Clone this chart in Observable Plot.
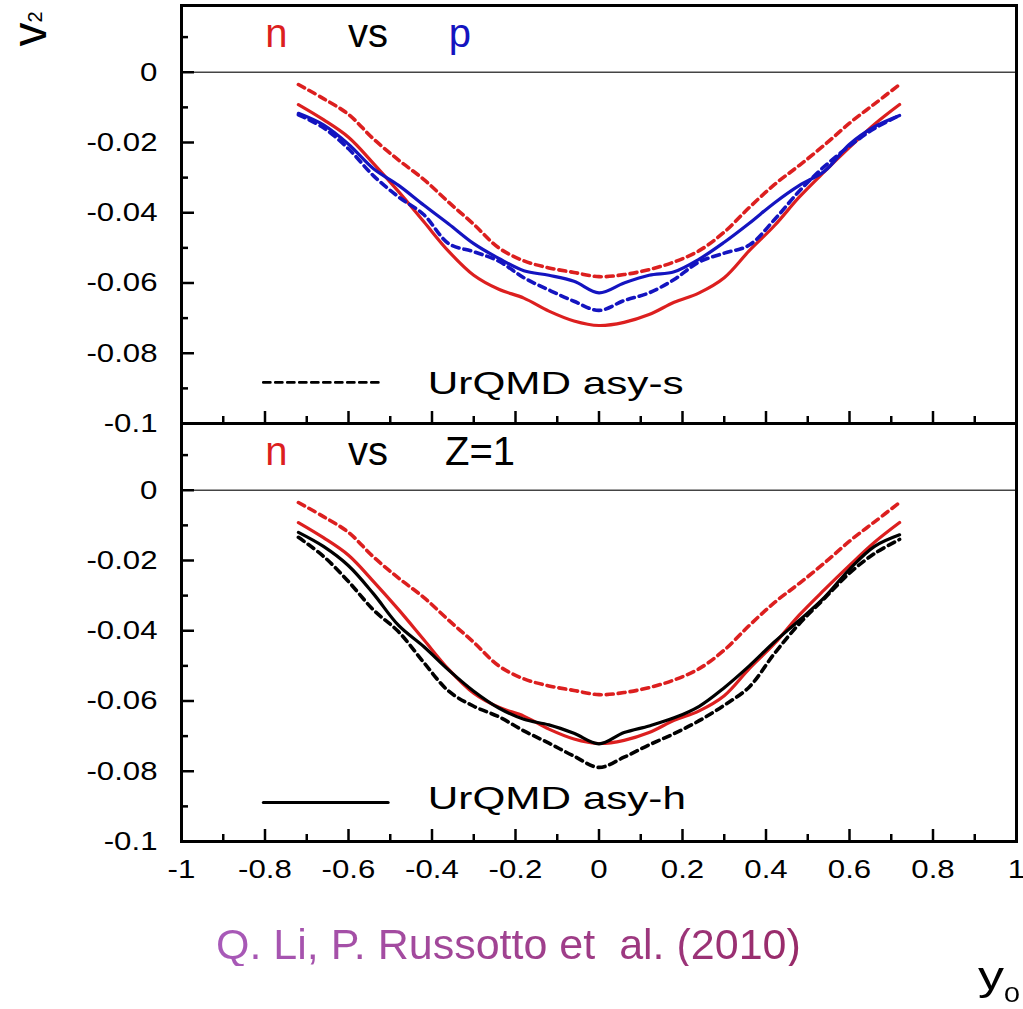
<!DOCTYPE html>
<html>
<head>
<meta charset="utf-8">
<script src="https://cdn.jsdelivr.net/npm/d3@7"></script>
<script src="https://cdn.jsdelivr.net/npm/@observablehq/plot@0.6"></script>
<style>
  html, body { margin: 0; padding: 0; background: #fff; }
  #wrap { position: relative; width: 1023px; height: 1009px; overflow: hidden;
          font-family: "Liberation Sans", Arial, sans-serif; color: #000; }
  #chart { position: absolute; left: 0; top: 0; }
  /* rotated axis title: baseline-left corner sits at (45, 46) */
  #v2 { position: absolute; left: 45px; top: 2.6px; font-size: 48px; line-height: normal;
        white-space: nowrap; transform-origin: 0 43.4px; transform: rotate(-90deg); }
  #v2 span { font-size: 20px; vertical-align: 4px; }
  #y0 { position: absolute; left: 978px; top: 956.2px; font-size: 40px; line-height: 40px;
        white-space: nowrap; transform-origin: 0 33.8px; transform: scaleX(1.3); }
  #y0 span { font-size: 22px; vertical-align: -12px; }
  #caption { position: absolute; left: 216px; top: 923px; font-size: 43px; line-height: 43px;
             white-space: pre; background: linear-gradient(90deg, #a85ab9, #982a68);
             -webkit-background-clip: text; background-clip: text; color: transparent; }
</style>
</head>
<body>
<div id="wrap">
  <div id="chart"></div>
  <div id="v2">v<span>2</span></div>
  <div id="y0">y<span>0</span></div>
  <div id="caption">Q. Li, P. Russotto et  al. (2010)</div>
</div>
<script>
// Elliptic flow v2 versus reduced rapidity y0 (UrQMD, asy-soft vs asy-hard)
const rapidity = [-0.72, -0.66, -0.60, -0.54, -0.48, -0.42, -0.36, -0.30, -0.24, -0.18, -0.12, -0.06,
                  0.00, 0.06, 0.12, 0.18, 0.24, 0.30, 0.36, 0.42, 0.48, 0.54, 0.60, 0.66, 0.72];

// neutrons, asy-soft (dashed) and asy-hard (solid)
const nAsySoft = [-0.0035, -0.0075, -0.0120, -0.0190, -0.0250, -0.0305, -0.0370, -0.0433, -0.0500, -0.0537, -0.0557, -0.0570,
                  -0.0582, -0.0576, -0.0562, -0.0540, -0.0508, -0.0455, -0.0385, -0.0320, -0.0265, -0.0207, -0.0145, -0.0090, -0.0035];
const nAsyHard = [-0.0092, -0.0135, -0.0185, -0.0260, -0.0340, -0.0425, -0.0510, -0.0578, -0.0618, -0.0643, -0.0680, -0.0708,
                  -0.0721, -0.0712, -0.0690, -0.0655, -0.0628, -0.0585, -0.0508, -0.0437, -0.0355, -0.0283, -0.0214, -0.0148, -0.0092];
// protons
const pAsySoft = [-0.0121, -0.0158, -0.0218, -0.0295, -0.0355, -0.0405, -0.0488, -0.0511, -0.0538, -0.0585, -0.0620, -0.0652,
                  -0.0678, -0.0650, -0.0628, -0.0590, -0.0540, -0.0515, -0.0492, -0.0420, -0.0338, -0.0268, -0.0210, -0.0160, -0.0123];
const pAsyHard = [-0.0117, -0.0150, -0.0205, -0.0275, -0.0322, -0.0378, -0.0432, -0.0488, -0.0530, -0.0565, -0.0578, -0.0595,
                  -0.0628, -0.0600, -0.0578, -0.0568, -0.0532, -0.0484, -0.0430, -0.0372, -0.0322, -0.0282, -0.0205, -0.0155, -0.0123];
// all Z=1 particles
const z1AsySoft = [-0.0134, -0.0188, -0.0260, -0.0341, -0.0403, -0.0490, -0.0572, -0.0615, -0.0645, -0.0685, -0.0720, -0.0757,
                   -0.0789, -0.0760, -0.0725, -0.0693, -0.0656, -0.0612, -0.0560, -0.0465, -0.0380, -0.0308, -0.0236, -0.0180, -0.0140];
const z1AsyHard = [-0.0120, -0.0160, -0.0215, -0.0295, -0.0385, -0.0445, -0.0512, -0.0572, -0.0620, -0.0652, -0.0668, -0.0692,
                   -0.0722, -0.0690, -0.0671, -0.0648, -0.0615, -0.0562, -0.0500, -0.0432, -0.0370, -0.0305, -0.0225, -0.0160, -0.0127];

// panels and axis ticks
const panels = ["p", "Z=1"];
const xTicks = [-1, -0.8, -0.6, -0.4, -0.2, 0, 0.2, 0.4, 0.6, 0.8, 1];
const xMinor = [-0.9, -0.7, -0.5, -0.3, -0.1, 0.1, 0.3, 0.5, 0.7, 0.9];
const yTicks = [-0.1, -0.08, -0.06, -0.04, -0.02, 0];
const yMinor = [-0.09, -0.07, -0.05, -0.03, -0.01, 0.01];

// panel headings and legend entries (positions in data units)
const headings = [
  {panel: "p", x: -0.773, y: 0.0071, text: "n", color: "red"},
  {panel: "p", x: -0.553, y: 0.0071, text: "vs", color: "black"},
  {panel: "p", x: -0.333, y: 0.0071, text: "p", color: "blue"},
  {panel: "Z=1", x: -0.773, y: 0.0073, text: "n", color: "red"},
  {panel: "Z=1", x: -0.553, y: 0.0073, text: "vs", color: "black"},
  {panel: "Z=1", x: -0.285, y: 0.0073, text: "Z=1", color: "black"}
];
const legendKeys = [
  {panel: "p", x: -0.804, y: -0.0883}, {panel: "p", x: -0.517, y: -0.0883},
  {panel: "Z=1", x: -0.804, y: -0.0889}, {panel: "Z=1", x: -0.505, y: -0.0889}
];
const legendLabels = [
  {panel: "p", x: -0.41, y: -0.0915, text: "UrQMD asy-s"},
  {panel: "Z=1", x: -0.41, y: -0.0907, text: "UrQMD asy-h"}
];

const RED = "#dc1f1f", BLUE = "#1414c0", BLACK = "#000000";
const colorOf = {red: RED, blue: BLUE, black: BLACK};
const DASH = "7,5";

function rows(panel, values) {
  return rapidity.map((x, i) => ({panel, x, v2: values[i]}));
}

// curve order: neutrons underneath, then protons / Z=1 on top
const curves = [
  {data: rows("p", nAsySoft), stroke: RED, dash: DASH},
  {data: rows("p", nAsyHard), stroke: RED, dash: null},
  {data: rows("p", pAsySoft), stroke: BLUE, dash: DASH},
  {data: rows("p", pAsyHard), stroke: BLUE, dash: null},
  {data: rows("Z=1", nAsySoft), stroke: RED, dash: DASH},
  {data: rows("Z=1", nAsyHard), stroke: RED, dash: null},
  {data: rows("Z=1", z1AsySoft), stroke: BLACK, dash: DASH},
  {data: rows("Z=1", z1AsyHard), stroke: BLACK, dash: null}
];

const fmtX = d => String(Math.round(d * 10) / 10);
const fmtY = d => String(Math.round(d * 100) / 100);
const blank = () => "";

const chart = Plot.plot({
  width: 1023,
  height: 900,
  marginLeft: 181,
  marginRight: 7,
  marginTop: 5,
  marginBottom: 59,
  style: {fontFamily: "'Liberation Sans', Arial, sans-serif", fontSize: "26px", background: "#fff", color: "#000", overflow: "visible"},
  x: {domain: [-1, 1]},
  y: {domain: [-0.1, 0.019]},
  fy: {domain: panels, padding: 0, axis: null},
  marks: [
    Plot.ruleY([0], {stroke: "#444", strokeWidth: 1.5}),
    ...curves.map(c => Plot.line(c.data, {
      x: "x", y: "v2", fy: "panel",
      stroke: c.stroke, strokeWidth: c.dash ? 3.6 : 3.2, strokeDasharray: c.dash,
      curve: "catmull-rom"
    })),
    // legend keys: dashed = asy-s (upper panel), solid = asy-h (lower panel)
    Plot.line(legendKeys.filter(d => d.panel === "p"), {x: "x", y: "y", fy: "panel", stroke: BLACK, strokeWidth: 2.8, strokeDasharray: DASH}),
    Plot.line(legendKeys.filter(d => d.panel === "Z=1"), {x: "x", y: "y", fy: "panel", stroke: BLACK, strokeWidth: 3}),
    Plot.text(legendLabels, {x: "x", y: "y", fy: "panel", text: "text", fontSize: 32, textAnchor: "start", lineAnchor: "bottom", fill: BLACK}),
    Plot.text(headings, {x: "x", y: "y", fy: "panel", text: "text", fontSize: 40, textAnchor: "middle", lineAnchor: "bottom", fill: d => colorOf[d.color]}),
    // y axis: labels, major and minor inward ticks
    Plot.axisY({ticks: yTicks, tickSize: 0, tickPadding: 24, tickFormat: fmtY, fontSize: 26, label: null}),
    Plot.axisY({ticks: yTicks, tickSize: -13, tickFormat: blank, strokeWidth: 2.5, label: null}),
    Plot.axisY({ticks: yMinor, tickSize: -7, tickFormat: blank, strokeWidth: 2.5, label: null}),
    // x axis: labels on the lower panel, inward ticks on both
    Plot.axisX({ticks: xTicks, tickSize: 0, tickPadding: 18, tickFormat: fmtX, fontSize: 26, label: null}),
    Plot.axisX({ticks: xTicks, tickSize: -12, tickFormat: blank, strokeWidth: 2.5, label: null, facetAnchor: null}),
    Plot.axisX({ticks: xMinor, tickSize: -7, tickFormat: blank, strokeWidth: 2.5, label: null, facetAnchor: null}),
    Plot.frame({stroke: BLACK, strokeWidth: 3})
  ]
});

document.getElementById("chart").appendChild(chart);

// widen Helvetica-style labels to the stretched lettering of the figure
function stretch(texts, k) {
  texts.forEach(t => {
    const w = t.getComputedTextLength();
    if (w > 0) {
      t.setAttribute("textLength", (w * k).toFixed(1));
      t.setAttribute("lengthAdjust", "spacingAndGlyphs");
    }
  });
}
stretch(chart.querySelectorAll('g[aria-label="y-axis tick label"] text'), 1.2);
stretch(chart.querySelectorAll('g[aria-label="x-axis tick label"] text'), 1.2);
stretch([...chart.querySelectorAll("text")].filter(t => t.textContent.startsWith("UrQMD")), 1.32);
</script>
</body>
</html>
